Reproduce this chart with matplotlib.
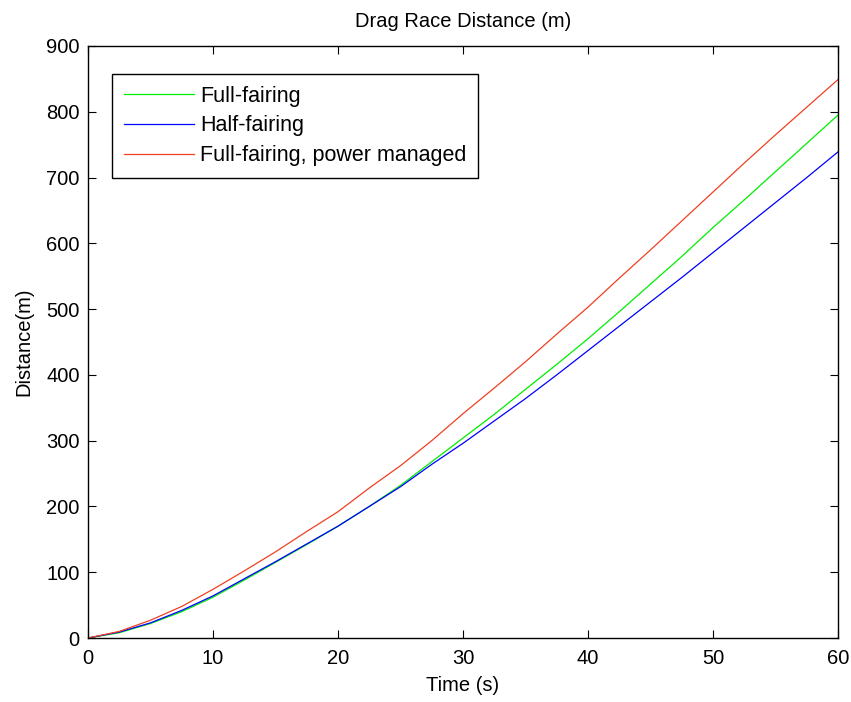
import matplotlib
matplotlib.use("Agg")
import matplotlib.pyplot as plt
import numpy as np

plt.rcParams['font.family'] = ['Liberation Sans', 'DejaVu Sans']

fontSize = 14.5
legendFontSize = 15.5

# time axis, sampled every 2.5 s
time = np.arange(0, 60.1, 2.5)

fullFairing = [0, 8, 22, 40, 62, 88, 115, 142, 170, 200, 232, 268, 304,
               340, 378, 416, 455, 496, 538, 580, 624, 666, 709, 752, 795]
halfFairing = [0, 9, 23, 42, 64, 90, 116, 143, 170, 200, 230, 264, 296,
               330, 364, 400, 437, 474, 511, 548, 586, 624, 662, 700, 739]
powerManaged = [0, 10, 27, 48, 74, 102, 131, 162, 192, 228, 262, 300, 341,
                380, 420, 462, 503, 547, 590, 634, 678, 722, 765, 807, 849]

labels = ["Full-fairing", "Half-fairing", "Full-fairing, power managed"]
colors = ["#00EE00", "#0000FF", "#F04020"]

fig = plt.figure(figsize=(8.51, 7.02), dpi=100)
ax = fig.add_axes([88/851, 64/702, 750/851, 592/702])

for y, lab, c in zip([fullFairing, halfFairing, powerManaged], labels, colors):
    ax.plot(time, y, color=c, linewidth=0.9, label=lab)

ax.set_xlim(0, 60)
ax.set_ylim(0, 900)
ax.set_xticks(np.arange(0, 61, 10))
ax.set_yticks(np.arange(0, 901, 100))

ax.tick_params(direction="in", length=6, width=0.8, top=True, right=True,
               labelsize=fontSize, colors="black")
ax.tick_params(axis="x", pad=8)
ax.tick_params(axis="y", pad=6)
for s in ax.spines.values():
    s.set_linewidth(1.0)
    s.set_color("black")

ax.set_title("Drag Race Distance (m)", fontsize=fontSize, pad=14)
ax.set_xlabel("Time (s)", fontsize=fontSize, labelpad=6)
ax.set_ylabel("Distance(m)", fontsize=fontSize, labelpad=9)

leg = ax.legend(loc="upper left", bbox_to_anchor=(0.032, 0.9527),
                borderaxespad=0, fontsize=legendFontSize, handlelength=3.25,
                handletextpad=0.3, borderpad=0.55, labelspacing=0.4,
                fancybox=False, framealpha=1, edgecolor="black")
leg.get_frame().set_linewidth(1.0)
for line in leg.get_lines():
    line.set_linewidth(0.9)

fig.savefig("out.png", dpi=100)
